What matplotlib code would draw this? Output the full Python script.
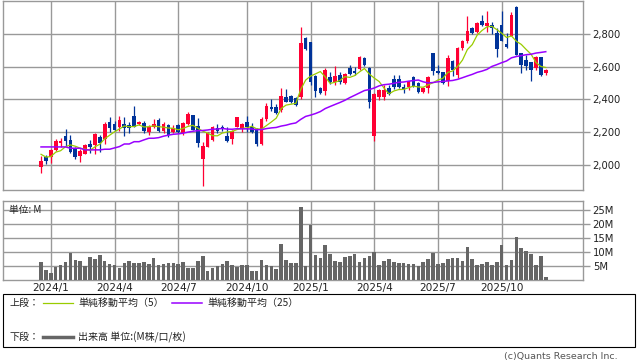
import numpy as np
import pandas as pd
import matplotlib
matplotlib.use('Agg')
import matplotlib.pyplot as plt
from matplotlib.patches import Rectangle
from matplotlib.lines import Line2D

plt.rcParams['font.family'] = ['DejaVu Sans']
CJK = ['Noto Sans CJK JP', 'DejaVu Sans']

# ---------------- data (weekly) ----------------
weeks = pd.date_range('2023-12-18', periods=104, freq='W-MON')

opens = [1990, 2047, 2047, 2091, 2132, 2177, 2153, 2102, 2055, 2067,
         2128, 2124, 2173, 2157, 2261, 2250, 2234, 2250, 2244, 2299,
         2250, 2256, 2203, 2234, 2275, 2210, 2244, 2203, 2244, 2193,
         2250, 2305, 2238, 2035, 2112, 2153, 2228, 2234, 2179, 2159,
         2234, 2218, 2262, 2234, 2214, 2128, 2279, 2352, 2352, 2336,
         2417, 2421, 2407, 2413, 2774, 2753, 2543, 2468, 2454, 2535,
         2509, 2550, 2499, 2592, 2574, 2584, 2651, 2590, 2177, 2417,
         2417, 2468, 2523, 2523, 2478, 2474, 2535, 2503, 2448, 2468,
         2682, 2574, 2570, 2513, 2635, 2550, 2712, 2759, 2835, 2814,
         2881, 2849, 2855, 2808, 2855, 2737, 2788, 2963, 2682, 2641,
         2631, 2590, 2657, 2560]
highs = [2055, 2059, 2100, 2161, 2165, 2218, 2183, 2112, 2100, 2126,
         2153, 2197, 2183, 2262, 2291, 2271, 2299, 2295, 2264, 2360,
         2271, 2269, 2242, 2281, 2287, 2260, 2250, 2244, 2248, 2260,
         2324, 2305, 2285, 2142, 2203, 2238, 2250, 2244, 2234, 2214,
         2295, 2254, 2299, 2258, 2224, 2295, 2376, 2405, 2372, 2470,
         2462, 2427, 2417, 2845, 2782, 2753, 2550, 2474, 2590, 2570,
         2604, 2570, 2564, 2611, 2600, 2666, 2657, 2600, 2438, 2462,
         2491, 2488, 2550, 2550, 2495, 2515, 2543, 2509, 2476, 2543,
         2686, 2611, 2570, 2672, 2641, 2723, 2763, 2910, 2845, 2875,
         2916, 2943, 2875, 2835, 2943, 2804, 2936, 2973, 2686, 2672,
         2631, 2666, 2657, 2584]
lows = [1949, 2006, 2014, 2087, 2112, 2118, 2075, 2037, 2020, 2067,
        2075, 2067, 2081, 2128, 2201, 2210, 2205, 2177, 2197, 2230,
        2242, 2197, 2183, 2224, 2203, 2197, 2169, 2193, 2193, 2181,
        2244, 2212, 2108, 1874, 2108, 2149, 2197, 2210, 2142, 2128,
        2230, 2204, 2203, 2197, 2116, 2124, 2271, 2330, 2311, 2326,
        2383, 2381, 2360, 2401, 2702, 2489, 2417, 2434, 2427, 2495,
        2488, 2495, 2495, 2550, 2550, 2580, 2607, 2346, 2148, 2397,
        2397, 2427, 2462, 2468, 2440, 2458, 2474, 2442, 2440, 2442,
        2550, 2558, 2495, 2482, 2543, 2529, 2702, 2743, 2800, 2804,
        2849, 2814, 2800, 2662, 2759, 2712, 2788, 2672, 2564, 2580,
        2515, 2580, 2543, 2550]
closes = [2024, 2026, 2091, 2146, 2148, 2146, 2081, 2051, 2085, 2120,
          2108, 2189, 2132, 2250, 2228, 2214, 2275, 2224, 2226, 2234,
          2264, 2210, 2234, 2250, 2210, 2250, 2183, 2226, 2203, 2254,
          2311, 2216, 2136, 2116, 2193, 2234, 2210, 2222, 2149, 2208,
          2291, 2250, 2230, 2203, 2128, 2281, 2360, 2340, 2319, 2421,
          2387, 2387, 2366, 2743, 2708, 2509, 2454, 2438, 2580, 2509,
          2543, 2509, 2556, 2556, 2564, 2657, 2611, 2387, 2434, 2458,
          2458, 2434, 2474, 2478, 2462, 2511, 2482, 2448, 2470, 2535,
          2576, 2564, 2499, 2651, 2580, 2712, 2759, 2820, 2804, 2869,
          2855, 2869, 2835, 2706, 2759, 2723, 2916, 2672, 2611, 2604,
          2580, 2662, 2550, 2580]
volume_m = [6.4, 3.5, 2.5, 4.8, 5.4, 6.4, 9.6, 7.1, 6.8, 5.0,
            8.2, 7.5, 8.9, 6.8, 5.7, 5.4, 4.3, 6.1, 6.8, 6.1,
            6.1, 6.4, 5.7, 7.8, 5.4, 5.7, 6.1, 6.1, 5.7, 6.4,
            4.3, 4.3, 6.8, 8.6, 3.2, 4.3, 5.0, 5.7, 6.8, 5.4,
            4.6, 5.4, 5.4, 3.2, 3.2, 7.1, 5.4, 5.0, 3.9, 12.9,
            7.1, 6.1, 6.1, 26.1, 5.0, 19.6, 8.9, 7.8, 12.5, 9.3,
            6.8, 6.4, 8.2, 8.6, 9.3, 6.4, 7.8, 8.6, 10.0, 5.4,
            6.8, 7.5, 6.4, 6.1, 6.1, 5.7, 5.7, 5.0, 6.4, 7.5,
            9.6, 5.7, 6.1, 7.5, 7.8, 7.8, 6.8, 11.9, 7.5, 5.4,
            5.7, 6.4, 5.4, 6.4, 12.5, 5.4, 7.1, 15.4, 11.4, 10.4,
            9.3, 5.4, 8.6, 1.1]
# moving-average values visible before enough weeks of data exist
ma5_head = [2065, 2048, 2051, 2078]
ma25_head = [2110, 2110, 2110, 2110, 2110, 2110, 2102, 2102, 2102, 2092,
             2092, 2092, 2092, 2096, 2096, 2104, 2112, 2128, 2128, 2142,
             2142, 2153, 2163, 2163]

price_ticks = [2000, 2200, 2400, 2600, 2800]
vol_ticks = [5, 10, 15, 20, 25]

# ---------------- derived ----------------
n = len(closes)
x = np.arange(n)
o = np.array(opens, float); c = np.array(closes, float)
h = np.array(highs, float); l = np.array(lows, float)
cs = pd.Series(c)
ma5 = cs.rolling(5).mean().to_numpy()
ma5[:len(ma5_head)] = ma5_head
ma25 = cs.rolling(25).mean().to_numpy()
ma25[:len(ma25_head)] = ma25_head

tick_pos, tick_lab = [], []
for i, d in enumerate(weeks):
    if i > 0 and d.month != weeks[i - 1].month and d.month in (1, 4, 7, 10):
        tick_pos.append(i)
        tick_lab.append(f"{d.year}/{d.month}")

# ---------------- figure ----------------
W, H = 638, 362
fig = plt.figure(figsize=(W / 100, H / 100), dpi=100)


def px_axes(x0, y0, x1, y1):
    return fig.add_axes([x0 / W, 1 - y1 / H, (x1 - x0) / W, (y1 - y0) / H])


UP, DOWN = '#ff0033', '#003399'
GRID = '#999999'
XL = (-7.76, 110.6)

ax = px_axes(3, 0.7, 583, 190)
axv = px_axes(3, 201, 583, 280)

for a in (ax, axv):
    a.set_xlim(*XL)
    a.set_axisbelow(True)
    a.grid(True, color=GRID, lw=1.0)
    for s in a.spines.values():
        s.set_color(GRID)
        s.set_linewidth(1.0)
    a.yaxis.tick_right()
    a.tick_params(axis='y', length=5, width=1.0, color=GRID, pad=2,
                  labelsize=7.2, labelcolor='#222222')
    a.set_xticks(tick_pos)
    a.tick_params(axis='x', length=0)

# candles
up = c >= o
colors = np.where(up, UP, DOWN)
ax.vlines(x, l, h, colors=colors, lw=0.9, zorder=3)
body_bottom = np.minimum(o, c)
body_h = np.maximum(np.abs(c - o), 3)
ax.bar(x, body_h, bottom=body_bottom, width=0.75, color=colors, lw=0, zorder=4)
ax.plot(x, ma5, color='#99cc00', lw=0.9, zorder=5)
ax.plot(x, ma25, color='#9900ff', lw=1.1, zorder=5)
ax.set_ylim(1847, 3003)
ax.set_yticks(price_ticks)
ax.set_yticklabels([f"{v:,}" for v in price_ticks])
ax.set_xticklabels([])

# volume
axv.bar(x, volume_m, width=0.72, color='#666666', lw=0, zorder=3)
axv.set_ylim(0, 28.2)
axv.set_yticks(vol_ticks)
axv.set_yticklabels([f"{v}M" for v in vol_ticks])
axv.set_xticklabels(tick_lab, fontsize=7.6, color='#222222')
axv.tick_params(axis='x', pad=2)
axv.text(6 / 580, 1 - 8.5 / 79, '単位: M', transform=axv.transAxes, ha='left',
         va='center', fontsize=7.0, family=CJK, color='#222222')

# legend box
fig.add_artist(Rectangle((3 / W, 1 - 347 / H), 632 / W, 53 / H, transform=fig.transFigure,
                         fill=False, edgecolor='#000000', lw=0.8))


def fx(px):
    return px / W


def fy(py):
    return 1 - py / H


LFS = 7.2
fig.text(fx(10), fy(303), '上段：', fontsize=LFS, family=CJK, va='center', color='#222222')
fig.add_artist(Line2D([fx(43), fx(73)], [fy(303), fy(303)], color='#99cc00', lw=0.9,
                      transform=fig.transFigure))
fig.text(fx(78), fy(303), '単純移動平均（5）', fontsize=LFS, family=CJK, va='center', color='#222222')
fig.add_artist(Line2D([fx(172), fx(202)], [fy(303), fy(303)], color='#9900ff', lw=1.1,
                      transform=fig.transFigure))
fig.text(fx(207), fy(303), '単純移動平均（25）', fontsize=LFS, family=CJK, va='center', color='#222222')
fig.text(fx(10), fy(337), '下段：', fontsize=LFS, family=CJK, va='center', color='#222222')
fig.add_artist(Line2D([fx(43), fx(73)], [fy(337), fy(337)], color='#666666', lw=2.5,
                      transform=fig.transFigure))
fig.text(fx(78), fy(337), '出来高 単位:(M株/口/枚)', fontsize=LFS, family=CJK, va='center',
         color='#222222')

fig.text(fx(618), fy(357), '(c)Quants Research Inc.', fontsize=6.8, ha='right', va='center',
         color='#555555')

fig.savefig('out.png', dpi=100)
